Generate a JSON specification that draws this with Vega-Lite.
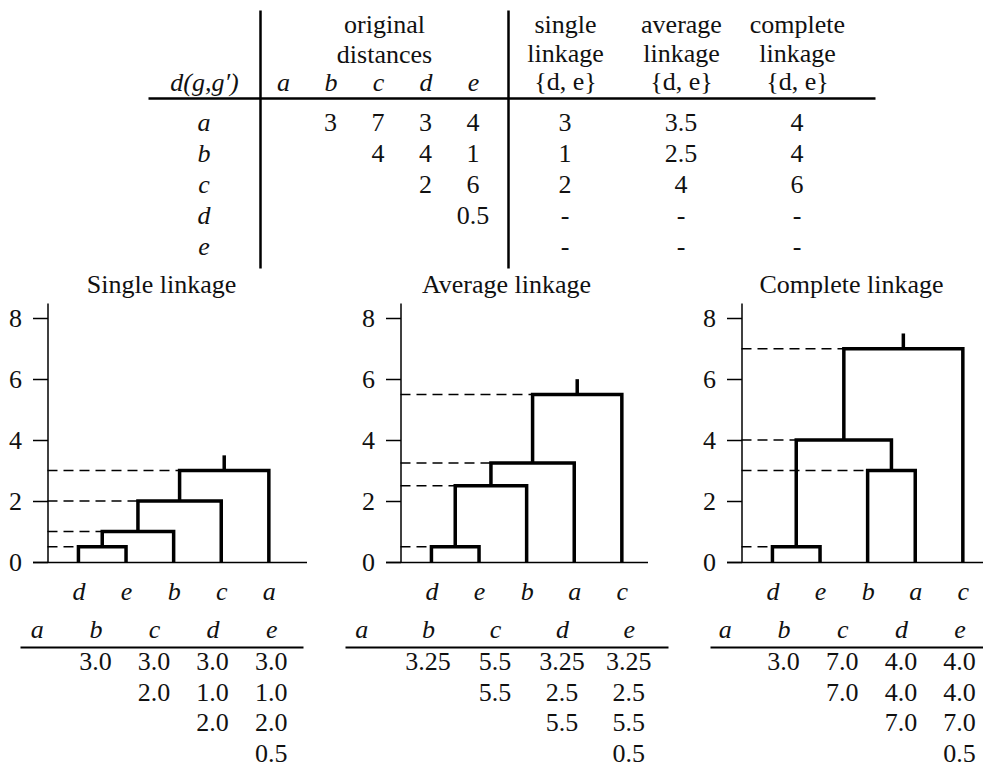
{
  "$schema": "https://vega.github.io/schema/vega-lite/v6.json",
  "background": "white",
  "padding": {"left": 8, "top": 10, "right": 0, "bottom": 0},
  "config": {
    "view": {"stroke": null},
    "font": "Liberation Serif",
    "axis": {"labelFont": "Liberation Serif", "labelFontSize": 26, "labelColor": "#111", "domainColor": "black", "tickColor": "black", "grid": false, "labelOverlap": false, "labelFlush": false, "labelBound": false, "labelAngle": 0, "titleFont": "Liberation Serif", "titleFontSize": 26, "titleFontWeight": "normal", "titleColor": "#111"},
    "text": {"font": "Liberation Serif", "fontSize": 26, "color": "#111"},
    "title": {"font": "Liberation Serif", "fontSize": 26, "fontWeight": "normal", "color": "#111"}
  },
  "datasets": {
    "rowlabels": [{"row": "a"}, {"row": "b"}, {"row": "c"}, {"row": "d"}, {"row": "e"}],
    "original": [
      {"row": "a", "col": "b", "v": "3"}, {"row": "a", "col": "c", "v": "7"}, {"row": "a", "col": "d", "v": "3"}, {"row": "a", "col": "e", "v": "4"},
      {"row": "b", "col": "c", "v": "4"}, {"row": "b", "col": "d", "v": "4"}, {"row": "b", "col": "e", "v": "1"},
      {"row": "c", "col": "d", "v": "2"}, {"row": "c", "col": "e", "v": "6"},
      {"row": "d", "col": "e", "v": "0.5"}
    ],
    "merged": [
      {"row": "a", "m": "single", "v": "3"}, {"row": "a", "m": "average", "v": "3.5"}, {"row": "a", "m": "complete", "v": "4"},
      {"row": "b", "m": "single", "v": "1"}, {"row": "b", "m": "average", "v": "2.5"}, {"row": "b", "m": "complete", "v": "4"},
      {"row": "c", "m": "single", "v": "2"}, {"row": "c", "m": "average", "v": "4"}, {"row": "c", "m": "complete", "v": "6"},
      {"row": "d", "m": "single", "v": "-"}, {"row": "d", "m": "average", "v": "-"}, {"row": "d", "m": "complete", "v": "-"},
      {"row": "e", "m": "single", "v": "-"}, {"row": "e", "m": "average", "v": "-"}, {"row": "e", "m": "complete", "v": "-"}
    ],
    "dendro": [
      {"m": "single", "link": 1, "k": 1, "pos": 1, "h": 0}, {"m": "single", "link": 1, "k": 2, "pos": 1, "h": 0.5}, {"m": "single", "link": 1, "k": 3, "pos": 2, "h": 0.5}, {"m": "single", "link": 1, "k": 4, "pos": 2, "h": 0},
      {"m": "single", "link": 2, "k": 1, "pos": 1.5, "h": 0.5}, {"m": "single", "link": 2, "k": 2, "pos": 1.5, "h": 1}, {"m": "single", "link": 2, "k": 3, "pos": 3, "h": 1}, {"m": "single", "link": 2, "k": 4, "pos": 3, "h": 0},
      {"m": "single", "link": 3, "k": 1, "pos": 2.25, "h": 1}, {"m": "single", "link": 3, "k": 2, "pos": 2.25, "h": 2}, {"m": "single", "link": 3, "k": 3, "pos": 4, "h": 2}, {"m": "single", "link": 3, "k": 4, "pos": 4, "h": 0},
      {"m": "single", "link": 4, "k": 1, "pos": 3.125, "h": 2}, {"m": "single", "link": 4, "k": 2, "pos": 3.125, "h": 3}, {"m": "single", "link": 4, "k": 3, "pos": 5, "h": 3}, {"m": "single", "link": 4, "k": 4, "pos": 5, "h": 0},
      {"m": "single", "link": 5, "k": 1, "pos": 4.0625, "h": 3}, {"m": "single", "link": 5, "k": 2, "pos": 4.0625, "h": 3.5},
      {"m": "average", "link": 1, "k": 1, "pos": 1, "h": 0}, {"m": "average", "link": 1, "k": 2, "pos": 1, "h": 0.5}, {"m": "average", "link": 1, "k": 3, "pos": 2, "h": 0.5}, {"m": "average", "link": 1, "k": 4, "pos": 2, "h": 0},
      {"m": "average", "link": 2, "k": 1, "pos": 1.5, "h": 0.5}, {"m": "average", "link": 2, "k": 2, "pos": 1.5, "h": 2.5}, {"m": "average", "link": 2, "k": 3, "pos": 3, "h": 2.5}, {"m": "average", "link": 2, "k": 4, "pos": 3, "h": 0},
      {"m": "average", "link": 3, "k": 1, "pos": 2.25, "h": 2.5}, {"m": "average", "link": 3, "k": 2, "pos": 2.25, "h": 3.25}, {"m": "average", "link": 3, "k": 3, "pos": 4, "h": 3.25}, {"m": "average", "link": 3, "k": 4, "pos": 4, "h": 0},
      {"m": "average", "link": 4, "k": 1, "pos": 3.125, "h": 3.25}, {"m": "average", "link": 4, "k": 2, "pos": 3.125, "h": 5.5}, {"m": "average", "link": 4, "k": 3, "pos": 5, "h": 5.5}, {"m": "average", "link": 4, "k": 4, "pos": 5, "h": 0},
      {"m": "average", "link": 5, "k": 1, "pos": 4.0625, "h": 5.5}, {"m": "average", "link": 5, "k": 2, "pos": 4.0625, "h": 6},
      {"m": "complete", "link": 1, "k": 1, "pos": 1, "h": 0}, {"m": "complete", "link": 1, "k": 2, "pos": 1, "h": 0.5}, {"m": "complete", "link": 1, "k": 3, "pos": 2, "h": 0.5}, {"m": "complete", "link": 1, "k": 4, "pos": 2, "h": 0},
      {"m": "complete", "link": 2, "k": 1, "pos": 3, "h": 0}, {"m": "complete", "link": 2, "k": 2, "pos": 3, "h": 3}, {"m": "complete", "link": 2, "k": 3, "pos": 4, "h": 3}, {"m": "complete", "link": 2, "k": 4, "pos": 4, "h": 0},
      {"m": "complete", "link": 3, "k": 1, "pos": 1.5, "h": 0.5}, {"m": "complete", "link": 3, "k": 2, "pos": 1.5, "h": 4}, {"m": "complete", "link": 3, "k": 3, "pos": 3.5, "h": 4}, {"m": "complete", "link": 3, "k": 4, "pos": 3.5, "h": 3},
      {"m": "complete", "link": 4, "k": 1, "pos": 2.5, "h": 4}, {"m": "complete", "link": 4, "k": 2, "pos": 2.5, "h": 7}, {"m": "complete", "link": 4, "k": 3, "pos": 5, "h": 7}, {"m": "complete", "link": 4, "k": 4, "pos": 5, "h": 0},
      {"m": "complete", "link": 5, "k": 1, "pos": 3.75, "h": 7}, {"m": "complete", "link": 5, "k": 2, "pos": 3.75, "h": 7.5}
    ],
    "dashes": [
      {"m": "single", "from": 0.35, "to": 1, "h": 0.5}, {"m": "single", "from": 0.35, "to": 1.5, "h": 1}, {"m": "single", "from": 0.35, "to": 2.25, "h": 2}, {"m": "single", "from": 0.35, "to": 3.125, "h": 3},
      {"m": "average", "from": 0.35, "to": 1, "h": 0.5}, {"m": "average", "from": 0.35, "to": 1.5, "h": 2.5}, {"m": "average", "from": 0.35, "to": 2.25, "h": 3.25}, {"m": "average", "from": 0.35, "to": 3.125, "h": 5.5},
      {"m": "complete", "from": 0.35, "to": 1, "h": 0.5}, {"m": "complete", "from": 0.35, "to": 3, "h": 3}, {"m": "complete", "from": 0.35, "to": 1.5, "h": 4}, {"m": "complete", "from": 0.35, "to": 2.5, "h": 7}
    ],
    "coph": [
      {"m": "single", "row": "a", "col": "b", "v": "3.0"}, {"m": "single", "row": "a", "col": "c", "v": "3.0"}, {"m": "single", "row": "a", "col": "d", "v": "3.0"}, {"m": "single", "row": "a", "col": "e", "v": "3.0"},
      {"m": "single", "row": "b", "col": "c", "v": "2.0"}, {"m": "single", "row": "b", "col": "d", "v": "1.0"}, {"m": "single", "row": "b", "col": "e", "v": "1.0"},
      {"m": "single", "row": "c", "col": "d", "v": "2.0"}, {"m": "single", "row": "c", "col": "e", "v": "2.0"},
      {"m": "single", "row": "d", "col": "e", "v": "0.5"},
      {"m": "average", "row": "a", "col": "b", "v": "3.25"}, {"m": "average", "row": "a", "col": "c", "v": "5.5"}, {"m": "average", "row": "a", "col": "d", "v": "3.25"}, {"m": "average", "row": "a", "col": "e", "v": "3.25"},
      {"m": "average", "row": "b", "col": "c", "v": "5.5"}, {"m": "average", "row": "b", "col": "d", "v": "2.5"}, {"m": "average", "row": "b", "col": "e", "v": "2.5"},
      {"m": "average", "row": "c", "col": "d", "v": "5.5"}, {"m": "average", "row": "c", "col": "e", "v": "5.5"},
      {"m": "average", "row": "d", "col": "e", "v": "0.5"},
      {"m": "complete", "row": "a", "col": "b", "v": "3.0"}, {"m": "complete", "row": "a", "col": "c", "v": "7.0"}, {"m": "complete", "row": "a", "col": "d", "v": "4.0"}, {"m": "complete", "row": "a", "col": "e", "v": "4.0"},
      {"m": "complete", "row": "b", "col": "c", "v": "7.0"}, {"m": "complete", "row": "b", "col": "d", "v": "4.0"}, {"m": "complete", "row": "b", "col": "e", "v": "4.0"},
      {"m": "complete", "row": "c", "col": "d", "v": "7.0"}, {"m": "complete", "row": "c", "col": "e", "v": "7.0"},
      {"m": "complete", "row": "d", "col": "e", "v": "0.5"}
    ]
  },
  "spacing": 4,
  "center": true,
  "vconcat": [
    {
      "spacing": 0,
      "bounds": "flush",
      "hconcat": [
        {
          "width": 112, "height": 258,
          "data": {"name": "rowlabels"},
          "mark": {"type": "text", "fontStyle": "italic", "baseline": "alphabetic", "align": "center"},
          "encoding": {
            "x": {"datum": "d(g,g′)", "type": "nominal", "axis": {"orient": "top", "offset": -88, "domain": true, "domainWidth": 2.5, "ticks": false, "tickSize": 0, "labelFontStyle": "italic", "labelBaseline": "bottom", "labelPadding": 3, "title": null}},
            "y": {"field": "row", "type": "nominal", "scale": {"domain": ["h1", "h2", "h3", "a", "b", "c", "d", "e"], "padding": 0.66, "align": 0.685}, "axis": null},
            "text": {"field": "row"}
          }
        },
        {
          "width": 248, "height": 258,
          "data": {"name": "original"},
          "mark": {"type": "text", "baseline": "alphabetic", "align": "center"},
          "encoding": {
            "x": {"field": "col", "type": "nominal", "scale": {"domain": ["a", "b", "c", "d", "e"], "padding": 0.61, "align": 0.397}, "axis": {"orient": "top", "offset": -88, "domain": true, "domainWidth": 2.5, "ticks": false, "tickSize": 0, "labelFontStyle": "italic", "labelBaseline": "bottom", "labelPadding": 3, "title": ["original", "distances"], "titleBaseline": "alphabetic", "titleLineHeight": 30, "titleY": -65.5}},
            "y": {"field": "row", "type": "nominal", "scale": {"domain": ["h1", "h2", "h3", "a", "b", "c", "d", "e"], "padding": 0.66, "align": 0.685}, "axis": {"orient": "left", "domain": true, "domainWidth": 2.5, "labels": false, "ticks": false, "tickSize": 0, "title": null}},
            "text": {"field": "v"}
          }
        },
        {
          "width": 367, "height": 258,
          "data": {"name": "merged"},
          "mark": {"type": "text", "baseline": "alphabetic", "align": "center"},
          "encoding": {
            "x": {"field": "m", "type": "nominal", "scale": {"domain": ["single", "average", "complete"], "padding": 0.582, "align": 0.422}, "axis": {"orient": "top", "offset": -88, "domain": true, "domainWidth": 2.5, "ticks": false, "tickSize": 0, "labelBaseline": "alphabetic", "labelPadding": 65.5, "labelLineHeight": 28.5, "labelExpr": "[datum.label, 'linkage', '{d, e}']", "title": null}},
            "y": {"field": "row", "type": "nominal", "scale": {"domain": ["h1", "h2", "h3", "a", "b", "c", "d", "e"], "padding": 0.66, "align": 0.685}, "axis": {"orient": "left", "domain": true, "domainWidth": 2.5, "labels": false, "ticks": false, "tickSize": 0, "title": null}},
            "text": {"field": "v"}
          }
        }
      ]
    },
    {
      "spacing": 12,
      "center": true,
      "vconcat": [
        {
          "spacing": 79,
          "bounds": "flush",
          "hconcat": [
            {
              "width": 274, "height": 259,
              "title": {"text": "Single linkage", "baseline": "alphabetic", "offset": -16, "dx": -8, "anchor": "middle", "frame": "group"},
              "layer": [
                {
                  "data": {"name": "dashes"},
                  "transform": [{"filter": "datum.m === 'single'"}],
                  "mark": {"type": "rule", "strokeDash": [10, 6], "strokeWidth": 1.5, "color": "black"},
                  "encoding": {
                    "x": {"field": "from", "type": "quantitative", "scale": {"domain": [0.035, 5.791], "nice": false, "zero": false}, "axis": {"orient": "bottom", "values": [1, 2, 3, 4, 5], "labelExpr": "['d','e','b','c','a'][datum.value - 1]", "labelFontStyle": "italic", "labelBaseline": "alphabetic", "labelPadding": 37, "ticks": false, "tickSize": 0, "domainWidth": 1.5, "title": null}},
                    "x2": {"field": "to"},
                    "y": {"field": "h", "type": "quantitative", "scale": {"domain": [0, 8.5], "nice": false, "zero": false}, "axis": {"orient": "left", "offset": -15, "values": [0, 1, 2, 3, 4, 5, 6, 7, 8], "labelExpr": "datum.value % 2 === 0 ? datum.label : ''", "tickSize": 15, "tickWidth": 1.5, "domainWidth": 1.5, "labelPadding": 11, "labelBaseline": "middle", "title": null}}
                  }
                },
                {
                  "data": {"name": "dendro"},
                  "transform": [{"filter": "datum.m === 'single'"}],
                  "mark": {"type": "line", "strokeWidth": 3.5, "color": "black", "strokeJoin": "miter", "strokeCap": "butt"},
                  "encoding": {
                    "x": {"field": "pos", "type": "quantitative", "scale": {"domain": [0.035, 5.791], "nice": false, "zero": false}},
                    "y": {"field": "h", "type": "quantitative", "scale": {"domain": [0, 8.5], "nice": false, "zero": false}},
                    "detail": {"field": "link"},
                    "order": {"field": "k", "type": "quantitative"}
                  }
                }
              ]
            },
            {
              "width": 262, "height": 259,
              "title": {"text": "Average linkage", "baseline": "alphabetic", "offset": -16, "dx": -10, "anchor": "middle", "frame": "group"},
              "layer": [
                {
                  "data": {"name": "dashes"},
                  "transform": [{"filter": "datum.m === 'average'"}],
                  "mark": {"type": "rule", "strokeDash": [10, 6], "strokeWidth": 1.5, "color": "black"},
                  "encoding": {
                    "x": {"field": "from", "type": "quantitative", "scale": {"domain": [0.035, 5.539], "nice": false, "zero": false}, "axis": {"orient": "bottom", "values": [1, 2, 3, 4, 5], "labelExpr": "['d','e','b','a','c'][datum.value - 1]", "labelFontStyle": "italic", "labelBaseline": "alphabetic", "labelPadding": 37, "ticks": false, "tickSize": 0, "domainWidth": 1.5, "title": null}},
                    "x2": {"field": "to"},
                    "y": {"field": "h", "type": "quantitative", "scale": {"domain": [0, 8.5], "nice": false, "zero": false}, "axis": {"orient": "left", "offset": -15, "values": [0, 1, 2, 3, 4, 5, 6, 7, 8], "labelExpr": "datum.value % 2 === 0 ? datum.label : ''", "tickSize": 15, "tickWidth": 1.5, "domainWidth": 1.5, "labelPadding": 11, "labelBaseline": "middle", "title": null}}
                  }
                },
                {
                  "data": {"name": "dendro"},
                  "transform": [{"filter": "datum.m === 'average'"}],
                  "mark": {"type": "line", "strokeWidth": 3.5, "color": "black", "strokeJoin": "miter", "strokeCap": "butt"},
                  "encoding": {
                    "x": {"field": "pos", "type": "quantitative", "scale": {"domain": [0.035, 5.539], "nice": false, "zero": false}},
                    "y": {"field": "h", "type": "quantitative", "scale": {"domain": [0, 8.5], "nice": false, "zero": false}},
                    "detail": {"field": "link"},
                    "order": {"field": "k", "type": "quantitative"}
                  }
                }
              ]
            },
            {
              "width": 264, "height": 259,
              "title": {"text": "Complete linkage", "baseline": "alphabetic", "offset": -16, "dx": -7, "anchor": "middle", "frame": "group"},
              "layer": [
                {
                  "data": {"name": "dashes"},
                  "transform": [{"filter": "datum.m === 'complete'"}],
                  "mark": {"type": "rule", "strokeDash": [10, 6], "strokeWidth": 1.5, "color": "black"},
                  "encoding": {
                    "x": {"field": "from", "type": "quantitative", "scale": {"domain": [0.035, 5.581], "nice": false, "zero": false}, "axis": {"orient": "bottom", "values": [1, 2, 3, 4, 5], "labelExpr": "['d','e','b','a','c'][datum.value - 1]", "labelFontStyle": "italic", "labelBaseline": "alphabetic", "labelPadding": 37, "ticks": false, "tickSize": 0, "domainWidth": 1.5, "title": null}},
                    "x2": {"field": "to"},
                    "y": {"field": "h", "type": "quantitative", "scale": {"domain": [0, 8.5], "nice": false, "zero": false}, "axis": {"orient": "left", "offset": -15, "values": [0, 1, 2, 3, 4, 5, 6, 7, 8], "labelExpr": "datum.value % 2 === 0 ? datum.label : ''", "tickSize": 15, "tickWidth": 1.5, "domainWidth": 1.5, "labelPadding": 11, "labelBaseline": "middle", "title": null}}
                  }
                },
                {
                  "data": {"name": "dendro"},
                  "transform": [{"filter": "datum.m === 'complete'"}],
                  "mark": {"type": "line", "strokeWidth": 3.5, "color": "black", "strokeJoin": "miter", "strokeCap": "butt"},
                  "encoding": {
                    "x": {"field": "pos", "type": "quantitative", "scale": {"domain": [0.035, 5.581], "nice": false, "zero": false}},
                    "y": {"field": "h", "type": "quantitative", "scale": {"domain": [0, 8.5], "nice": false, "zero": false}},
                    "detail": {"field": "link"},
                    "order": {"field": "k", "type": "quantitative"}
                  }
                }
              ]
            }
          ]
        },
        {
          "spacing": 42,
          "bounds": "flush",
          "hconcat": [
            {
              "width": 283, "height": 125,
              "data": {"name": "coph"},
              "transform": [{"filter": "datum.m === 'single'"}],
              "mark": {"type": "text", "baseline": "alphabetic", "align": "center"},
              "encoding": {
                "x": {"field": "col", "type": "nominal", "scale": {"domain": ["a", "b", "c", "d", "e"], "padding": 0.4147, "align": 0.346}, "axis": {"orient": "top", "domain": true, "domainWidth": 2, "ticks": false, "tickSize": 0, "labelFontStyle": "italic", "labelBaseline": "alphabetic", "labelPadding": 10, "title": null}},
                "y": {"field": "row", "type": "nominal", "scale": {"domain": ["a", "b", "c", "d"], "padding": 0.549, "align": 0.687}, "axis": null},
                "text": {"field": "v"}
              }
            },
            {
              "width": 323, "height": 125,
              "data": {"name": "coph"},
              "transform": [{"filter": "datum.m === 'average'"}],
              "mark": {"type": "text", "baseline": "alphabetic", "align": "center"},
              "encoding": {
                "x": {"field": "col", "type": "nominal", "scale": {"domain": ["a", "b", "c", "d", "e"], "padding": 0.414, "align": 0.292}, "axis": {"orient": "top", "domain": true, "domainWidth": 2, "ticks": false, "tickSize": 0, "labelFontStyle": "italic", "labelBaseline": "alphabetic", "labelPadding": 10, "title": null}},
                "y": {"field": "row", "type": "nominal", "scale": {"domain": ["a", "b", "c", "d"], "padding": 0.549, "align": 0.687}, "axis": null},
                "text": {"field": "v"}
              }
            },
            {
              "width": 293, "height": 125,
              "data": {"name": "coph"},
              "transform": [{"filter": "datum.m === 'complete'"}],
              "mark": {"type": "text", "baseline": "alphabetic", "align": "center"},
              "encoding": {
                "x": {"field": "col", "type": "nominal", "scale": {"domain": ["a", "b", "c", "d", "e"], "padding": 0.4957, "align": 0.254}, "axis": {"orient": "top", "domain": true, "domainWidth": 2, "ticks": false, "tickSize": 0, "labelFontStyle": "italic", "labelBaseline": "alphabetic", "labelPadding": 10, "title": null}},
                "y": {"field": "row", "type": "nominal", "scale": {"domain": ["a", "b", "c", "d"], "padding": 0.549, "align": 0.687}, "axis": null},
                "text": {"field": "v"}
              }
            }
          ]
        }
      ]
    }
  ]
}
